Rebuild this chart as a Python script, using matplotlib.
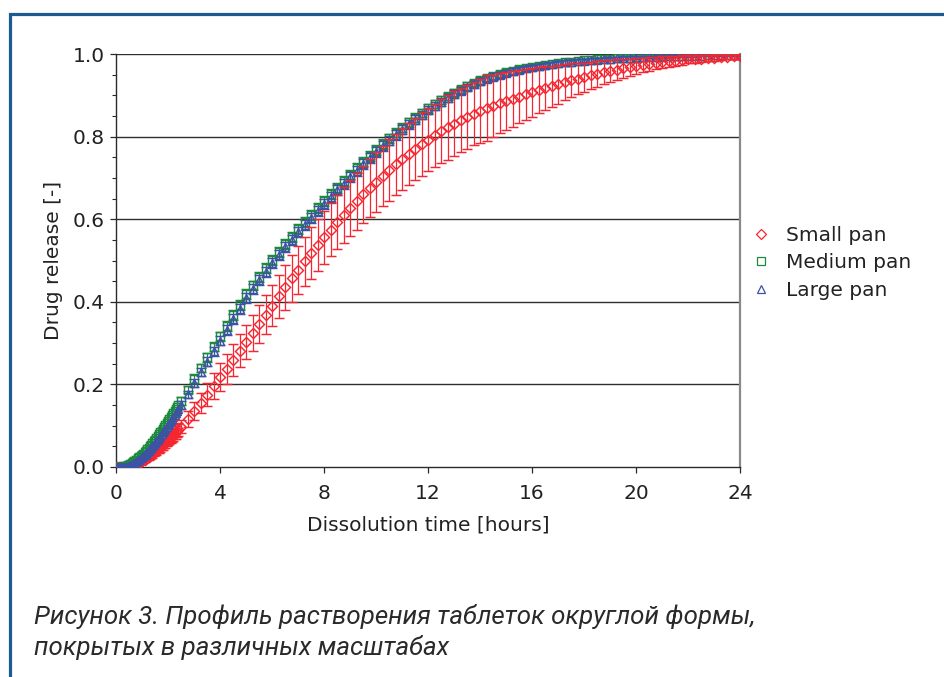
import numpy as np
import matplotlib
matplotlib.use("Agg")
import matplotlib.pyplot as plt
from matplotlib.ticker import MultipleLocator
from matplotlib.lines import Line2D

# ---- data ----
# early phase: dense sampling every 3 min (0 - 2.4 h)
early_time = np.arange(0, 2.401, 0.05)
small_early = [
    0.000, 0.000, 0.000, 0.000, 0.000, 0.000, 0.000, 0.000, 0.000, 0.000,
    0.001, 0.002, 0.003, 0.004, 0.005, 0.006, 0.007, 0.009, 0.011, 0.012,
    0.014, 0.016, 0.018, 0.020, 0.022, 0.024, 0.026, 0.029, 0.031, 0.034,
    0.036, 0.039, 0.042, 0.044, 0.047, 0.050, 0.053, 0.056, 0.059, 0.062,
    0.065, 0.068, 0.071, 0.074, 0.078, 0.081, 0.084, 0.088, 0.091,
]
small_early_err = [
    0.000, 0.000, 0.000, 0.000, 0.000, 0.000, 0.000, 0.000, 0.000, 0.000,
    0.001, 0.001, 0.001, 0.002, 0.002, 0.003, 0.003, 0.003, 0.004, 0.004,
    0.004, 0.005, 0.005, 0.006, 0.006, 0.006, 0.007, 0.007, 0.008, 0.008,
    0.008, 0.009, 0.009, 0.010, 0.010, 0.010, 0.011, 0.011, 0.012, 0.012,
    0.012, 0.013, 0.013, 0.014, 0.014, 0.014, 0.015, 0.015, 0.016,
]
medium_early = [
    0.000, 0.000, 0.000, 0.000, 0.000, 0.000, 0.001, 0.002, 0.003, 0.004,
    0.006, 0.008, 0.010, 0.012, 0.014, 0.016, 0.018, 0.021, 0.024, 0.026,
    0.029, 0.032, 0.036, 0.039, 0.043, 0.046, 0.050, 0.054, 0.058, 0.062,
    0.066, 0.070, 0.075, 0.079, 0.084, 0.088, 0.093, 0.097, 0.102, 0.106,
    0.111, 0.116, 0.121, 0.125, 0.130, 0.135, 0.140, 0.145, 0.150,
]
large_early = [
    0.000, 0.000, 0.000, 0.000, 0.000, 0.000, 0.000, 0.000, 0.001, 0.002,
    0.003, 0.004, 0.006, 0.008, 0.010, 0.012, 0.014, 0.016, 0.018, 0.021,
    0.024, 0.026, 0.029, 0.032, 0.036, 0.039, 0.043, 0.046, 0.050, 0.054,
    0.058, 0.062, 0.066, 0.070, 0.075, 0.079, 0.084, 0.088, 0.093, 0.097,
    0.102, 0.106, 0.111, 0.116, 0.121, 0.125, 0.130, 0.135, 0.140,
]

# main phase: every 15 min (2.5 - 24 h)
late_time = np.arange(2.5, 24.001, 0.25)
small_pan = [
    0.098, 0.116, 0.135, 0.155, 0.175, 0.196, 0.217, 0.238, 0.259, 0.281,
    0.303, 0.325, 0.347, 0.369, 0.391, 0.413, 0.435, 0.4565, 0.4775, 0.498,
    0.518, 0.5375, 0.5565, 0.575, 0.593, 0.6105, 0.6275, 0.644, 0.660, 0.6755,
    0.6905, 0.705, 0.719, 0.7325, 0.7455, 0.758, 0.770, 0.7815, 0.7925, 0.803,
    0.813, 0.8225, 0.8315, 0.840, 0.848, 0.8555, 0.8625, 0.869, 0.875, 0.881,
    0.8865, 0.892, 0.897, 0.902, 0.907, 0.912, 0.917, 0.922, 0.927, 0.9315,
    0.936, 0.940, 0.944, 0.948, 0.952, 0.9555, 0.959, 0.962, 0.965, 0.968,
    0.971, 0.9735, 0.976, 0.978, 0.980, 0.982, 0.984, 0.9855, 0.987, 0.988,
    0.989, 0.990, 0.991, 0.992, 0.993, 0.994, 0.995,
]
small_err = [
    0.016, 0.019, 0.022, 0.025, 0.028, 0.031, 0.034, 0.036, 0.038, 0.040,
    0.042, 0.044, 0.046, 0.048, 0.050, 0.052, 0.054, 0.056, 0.058, 0.060,
    0.062, 0.063, 0.064, 0.065, 0.066, 0.067, 0.068, 0.069, 0.070, 0.071,
    0.072, 0.073, 0.074, 0.075, 0.075, 0.076, 0.076, 0.077, 0.077, 0.077,
    0.078, 0.078, 0.078, 0.078, 0.078, 0.077, 0.077, 0.080, 0.075, 0.073,
    0.071, 0.068, 0.065, 0.062, 0.059, 0.056, 0.053, 0.050, 0.047, 0.044,
    0.041, 0.038, 0.035, 0.033, 0.031, 0.029, 0.027, 0.025, 0.023, 0.021,
    0.019, 0.017, 0.016, 0.015, 0.014, 0.013, 0.012, 0.011, 0.010, 0.009,
    0.008, 0.008, 0.007, 0.007, 0.006, 0.006, 0.005,
]
medium_pan = [
    0.1600, 0.1870, 0.2140, 0.2396, 0.2652, 0.2908, 0.3164, 0.3420, 0.3676, 0.3932,
    0.4180, 0.4395, 0.4605, 0.4810, 0.5010, 0.5205, 0.5395, 0.5580, 0.5760, 0.5935,
    0.6105, 0.6273, 0.6439, 0.6603, 0.6765, 0.6925, 0.7082, 0.7236, 0.7387, 0.7535,
    0.7680, 0.7821, 0.7958, 0.8091, 0.8219, 0.8342, 0.8460, 0.8573, 0.8681, 0.8784,
    0.8882, 0.8975, 0.9063, 0.9146, 0.9224, 0.9297, 0.9365, 0.9420, 0.9470, 0.9516,
    0.9558, 0.9596, 0.9631, 0.9663, 0.9692, 0.9718, 0.9742, 0.9764, 0.9784, 0.9802,
    0.9818, 0.9833, 0.9846, 0.9858, 0.9869, 0.9879, 0.9888, 0.9896, 0.9904, 0.9911,
    0.9918, 0.9924, 0.9930, 0.9935, 0.9940, 0.9944, 0.9948, 0.9952, 0.9956, 0.9959,
    0.9962, 0.9965, 0.9968, 0.9970, 0.9972, 0.9974, 0.9976,
]
medium_err = [
    0.009, 0.009, 0.010, 0.010, 0.011, 0.011, 0.011, 0.012, 0.012, 0.012,
    0.012, 0.012, 0.012, 0.012, 0.012, 0.012, 0.012, 0.012, 0.012, 0.012,
    0.012, 0.012, 0.012, 0.012, 0.012, 0.012, 0.012, 0.012, 0.012, 0.012,
    0.012, 0.012, 0.011, 0.011, 0.011, 0.011, 0.011, 0.010, 0.010, 0.010,
    0.010, 0.009, 0.009, 0.009, 0.009, 0.008, 0.008, 0.008, 0.008, 0.007,
    0.007, 0.007, 0.007, 0.006, 0.006, 0.006, 0.006, 0.005, 0.005, 0.005,
    0.005, 0.005, 0.004, 0.004, 0.004, 0.004, 0.004, 0.004, 0.004, 0.004,
    0.004, 0.003, 0.003, 0.003, 0.003, 0.003, 0.003, 0.003, 0.003, 0.003,
    0.002, 0.002, 0.002, 0.002, 0.002, 0.002, 0.002,
]
large_pan = [
    0.1500, 0.1762, 0.2032, 0.2294, 0.2550, 0.2806, 0.3062, 0.3318, 0.3574, 0.3830,
    0.4081, 0.4309, 0.4521, 0.4728, 0.4930, 0.5127, 0.5319, 0.5506, 0.5688, 0.5865,
    0.6037, 0.6206, 0.6373, 0.6537, 0.6700, 0.6861, 0.7019, 0.7174, 0.7327, 0.7476,
    0.7622, 0.7765, 0.7903, 0.8038, 0.8168, 0.8293, 0.8413, 0.8528, 0.8638, 0.8743,
    0.8843, 0.8938, 0.9028, 0.9113, 0.9193, 0.9268, 0.9338, 0.9398, 0.9450, 0.9498,
    0.9541, 0.9581, 0.9617, 0.9650, 0.9680, 0.9708, 0.9732, 0.9755, 0.9776, 0.9795,
    0.9812, 0.9827, 0.9841, 0.9853, 0.9865, 0.9875, 0.9884, 0.9893, 0.9901, 0.9908,
    0.9915, 0.9922, 0.9928, 0.9933, 0.9938, 0.9942, 0.9946, 0.9950, 0.9954, 0.9958,
    0.9961, 0.9964, 0.9967, 0.9969, 0.9971, 0.9973, 0.9975,
]
large_err = list(medium_err)

series_labels = ["Small pan", "Medium pan", "Large pan"]
x_ticks = [0, 4, 8, 12, 16, 20, 24]
y_ticks = [0.0, 0.2, 0.4, 0.6, 0.8, 1.0]
caption_lines = ["Рисунок 3. Профиль растворения таблеток округлой формы,",
                 "покрытых в различных масштабах"]

# ---- styling ----
RED, GREEN, BLUE = "#f52630", "#1d8a3e", "#3d52a6"
plt.rcParams["font.family"] = ["DejaVu Sans"]

W, H = 944, 677
fig = plt.figure(figsize=(W / 100, H / 100), dpi=100)
ax = fig.add_axes([116 / W, 1 - 467 / H, 624 / W, 413 / H])

# frame around the figure (top + left, blue)
fig.add_artist(Line2D([10 / W, 10 / W, 1.0], [0.0, 1 - 14 / H, 1 - 14 / H],
                      transform=fig.transFigure, color="#1b5b90", lw=2.3,
                      solid_capstyle="butt", solid_joinstyle="miter"))

ms = 5.4
series = [
    ("D", RED, ms - 0.4, small_early, small_early_err, small_pan, small_err, 3, 6),
    ("s", GREEN, ms - 0.3, medium_early, None, medium_pan, medium_err, 4, 4),
    ("^", BLUE, ms + 0.3, large_early, None, large_pan, large_err, 5, 5),
]
for (mk, col, size, ev, eerr, lv, lerr, z_early, z_late) in series:
    common = dict(fmt=mk, ms=size, mfc="none", mec=col, mew=1.05, ecolor=col,
                  elinewidth=0.9, capsize=3.4, capthick=0.9)
    ax.errorbar(early_time, ev, yerr=eerr, zorder=z_early, **common)
    ax.errorbar(late_time, lv, yerr=lerr, zorder=z_late, **common)

ax.set_xlim(0, 24)
ax.set_ylim(0, 1.0)
ax.set_xticks(x_ticks)
ax.set_xticklabels([str(v) for v in x_ticks])
ax.set_yticks(y_ticks)
ax.set_yticklabels([f"{v:.1f}" for v in y_ticks])
ax.yaxis.set_minor_locator(MultipleLocator(0.05))

for yv in y_ticks[1:]:
    ax.axhline(yv, color="#2e2e2e", lw=1.0, zorder=1)

ax.spines["top"].set_visible(False)
ax.spines["right"].set_color("#8a8a8a")
ax.spines["right"].set_linewidth(1.6)
for s in ["left", "bottom"]:
    ax.spines[s].set_color("#2a2a2a")
    ax.spines[s].set_linewidth(1.0)

ax.tick_params(axis="both", which="major", direction="out", length=4,
               width=0.9, colors="#2a2a2a", labelsize=14.5, labelcolor="#222222")
ax.tick_params(axis="x", which="major", pad=8)
ax.tick_params(axis="y", which="major", pad=4)
ax.tick_params(axis="y", which="minor", direction="out", length=3, width=0.8,
               colors="#2a2a2a")

ax.set_xlabel("Dissolution time [hours]", fontsize=14.5, color="#222222", labelpad=9)
ax.set_ylabel("Drug release [-]", fontsize=14.5, color="#222222", labelpad=7)

handles = [Line2D([], [], ls="none", marker=mk, ms=6.2 if mk != "D" else 5.4,
                  mfc="none", mec=col, mew=0.9) for (mk, col, *_r) in series]
leg = ax.legend(handles, series_labels, loc="upper left",
                bbox_to_anchor=(752 / W, 1 - 226 / H),
                bbox_transform=fig.transFigure, frameon=False, fontsize=14.5,
                handlelength=0.9, handletextpad=0.8, labelspacing=0.42,
                borderpad=0, borderaxespad=0)
for t in leg.get_texts():
    t.set_color("#222222")

for i, yb in enumerate([624, 655]):
    fig.text(34 / W, 1 - yb / H, caption_lines[i], family=["Roboto", "DejaVu Sans"],
             style="italic", fontsize=18.6, color="#2a2a2a", va="baseline")

fig.savefig("out.png", dpi=100)
